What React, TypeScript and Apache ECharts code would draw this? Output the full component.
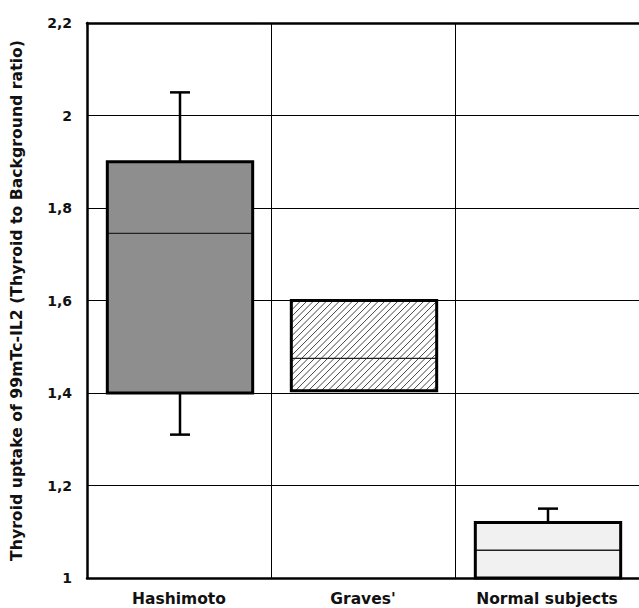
import React, { useEffect, useRef } from "react";
import * as echarts from "echarts";

const categories = ["Hashimoto", "Graves'", "Normal subjects"];
const boxLow = [1.4, 1.405, 1.0];
const medians = [1.745, 1.475, 1.06];
const boxHigh = [1.9, 1.6, 1.12];
const whiskerLow: (number | null)[] = [1.31, null, null];
const whiskerHigh: (number | null)[] = [2.05, null, 1.15];
const fills = ["#8e8e8e", "hatch", "#f1f1f1"];
const yTicks = { min: 1, max: 2.2, interval: 0.2 };
const yTitle = "Thyroid uptake of 99mTc-IL2 (Thyroid to Background ratio)";

const FONT = "DejaVu Sans";

export default function App() {
  const ref = useRef<HTMLDivElement>(null);
  useEffect(() => {
    if (!ref.current) return;
    const chart = echarts.init(ref.current, undefined, { renderer: "svg" });
    const data = categories.map((c, i) => [i, boxLow[i], medians[i], boxHigh[i], whiskerLow[i], whiskerHigh[i]]);
    const option: any = {
      animation: false,
      backgroundColor: "#ffffff",
      grid: { left: 87, right: -2, top: 23, bottom: 30, containLabel: false },
      xAxis: [
        {
          type: "category",
          data: categories,
          boundaryGap: true,
          axisLine: { show: true, lineStyle: { color: "#000", width: 2.5 } },
          axisTick: { show: false },
          splitLine: { show: true, interval: 0, lineStyle: { color: "#000", width: 1 } },
          axisLabel: { interval: 0, hideOverlap: false, color: "#111", fontFamily: FONT, fontWeight: "bold", fontSize: 15.5, margin: 13 },
        },
        {
          type: "category",
          data: categories,
          position: "top",
          axisLine: { show: true, lineStyle: { color: "#000", width: 2.5 } },
          axisTick: { show: false },
          axisLabel: { show: false },
          splitLine: { show: false },
        },
      ],
      yAxis: {
        type: "value",
        min: yTicks.min,
        max: yTicks.max,
        interval: yTicks.interval,
        name: yTitle,
        nameLocation: "middle",
        nameGap: 63,
        nameTextStyle: { color: "#111", fontFamily: FONT, fontWeight: "bold", fontSize: 15.7 },
        axisLine: { show: true, lineStyle: { color: "#000", width: 2.5 } },
        axisTick: { show: false },
        splitLine: { show: true, lineStyle: { color: "#000", width: 1 } },
        axisLabel: {
          color: "#111",
          fontFamily: FONT,
          fontWeight: "bold",
          fontSize: 14,
          margin: 15,
          formatter: (v: number) => String(+v.toFixed(1)).replace(".", ","),
        },
      },
      series: [
        {
          type: "custom",
          data,
          encode: { x: 0, y: [1, 2, 3] },
          renderItem: (params: any, api: any) => {
            const i = api.value(0);
            const band = api.size([1, 0])[0];
            const w = band * 0.79;
            const pLow = api.coord([i, api.value(1)]);
            const pMed = api.coord([i, api.value(2)]);
            const pHigh = api.coord([i, api.value(3)]);
            const cx = pLow[0] + 1;
            const x0 = cx - w / 2;
            const x1 = cx + w / 2;
            const y0 = pHigh[1];
            const y1 = pLow[1];
            const children: any[] = [];
            const wl = whiskerLow[i];
            const wh = whiskerHigh[i];
            const wStyle = { stroke: "#000", lineWidth: 2.5 };
            const capHalf = 10;
            if (wh != null) {
              const p = api.coord([i, wh]);
              children.push({ type: "line", shape: { x1: cx, y1: y0, x2: cx, y2: p[1] }, style: wStyle });
              children.push({ type: "line", shape: { x1: cx - capHalf, y1: p[1], x2: cx + capHalf, y2: p[1] }, style: wStyle });
            }
            if (wl != null) {
              const p = api.coord([i, wl]);
              children.push({ type: "line", shape: { x1: cx, y1: y1, x2: cx, y2: p[1] }, style: wStyle });
              children.push({ type: "line", shape: { x1: cx - capHalf, y1: p[1], x2: cx + capHalf, y2: p[1] }, style: wStyle });
            }
            const fill = fills[i];
            children.push({
              type: "rect",
              shape: { x: x0, y: y0, width: w, height: y1 - y0 },
              style: { fill: fill === "hatch" ? "#ffffff" : fill, stroke: "none" },
            });
            if (fill === "hatch") {
              const s = 6.5;
              for (let c = x0 + y0 + s / 2; c < x1 + y1; c += s) {
                const xa = Math.max(x0, c - y1);
                const xb = Math.min(x1, c - y0);
                if (xb <= xa) continue;
                children.push({
                  type: "line",
                  shape: { x1: xa, y1: c - xa, x2: xb, y2: c - xb },
                  style: { stroke: "#444", lineWidth: 1 },
                });
              }
            }
            children.push({
              type: "line",
              shape: { x1: x0, y1: pMed[1], x2: x1, y2: pMed[1] },
              style: { stroke: "#222", lineWidth: 1.3 },
            });
            children.push({
              type: "rect",
              shape: { x: x0, y: y0, width: w, height: y1 - y0 },
              style: { fill: "none", stroke: "#000", lineWidth: 3 },
            });
            return { type: "group", children };
          },
        },
      ],
    };
    chart.setOption(option);
    return () => chart.dispose();
  }, []);
  return <div ref={ref} style={{ width: 639, height: 608, position: "absolute", left: 0, top: 0 }} />;
}
